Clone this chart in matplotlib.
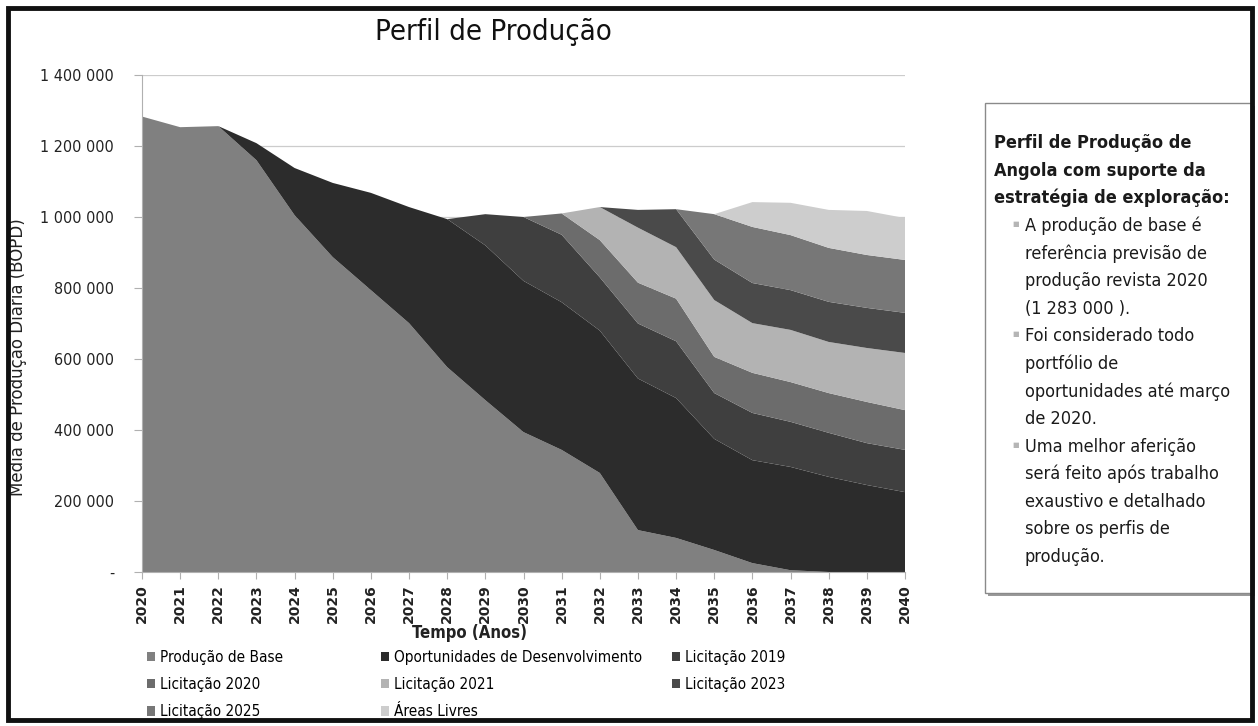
import matplotlib
matplotlib.use("Agg")
import matplotlib.pyplot as plt
from matplotlib.patches import Patch, Rectangle
from matplotlib.ticker import FuncFormatter
from matplotlib.font_manager import FontProperties

# ---------------- data ----------------
years = list(range(2020, 2041))
series_names = ["Produção de Base", "Oportunidades de Desenvolvimento", "Licitação 2019",
                "Licitação 2020", "Licitação 2021", "Licitação 2023",
                "Licitação 2025", "Áreas Livres"]

producao_base = [1283000, 1253000, 1256000, 1160000, 1005000, 887000, 794000, 701000,
                 577000, 484000, 394000, 344000, 279000, 118000, 96000, 62000, 25000,
                 5000, 0, 0, 0]
oportunidades = [0, 0, 0, 48000, 133000, 209000, 274000, 327000, 417000, 436000, 426000,
                 416000, 401000, 427000, 394000, 313000, 290000, 291000, 268000, 245000, 225000]
licitacao_2019 = [0, 0, 0, 0, 0, 0, 0, 0, 0, 88000, 180000, 190000, 150000, 155000,
                  160000, 129000, 133000, 127000, 124000, 118000, 119000]
licitacao_2020 = [0, 0, 0, 0, 0, 0, 0, 0, 0, 0, 0, 60000, 105000, 115000, 120000,
                  102000, 113000, 112000, 112000, 116000, 112000]
licitacao_2021 = [0, 0, 0, 0, 0, 0, 0, 0, 0, 0, 0, 0, 93000, 155000, 145000, 160000,
                  140000, 147000, 144000, 152000, 161000]
licitacao_2023 = [0, 0, 0, 0, 0, 0, 0, 0, 0, 0, 0, 0, 0, 50000, 107000, 114000,
                  113000, 112000, 113000, 113000, 113000]
licitacao_2025 = [0, 0, 0, 0, 0, 0, 0, 0, 0, 0, 0, 0, 0, 0, 0, 128000, 158000,
                  155000, 152000, 149000, 149000]
areas_livres = [0, 0, 0, 0, 0, 0, 0, 0, 0, 0, 0, 0, 0, 0, 0, 0, 70000, 91000,
                107000, 124000, 118000]

yticks = [0, 200000, 400000, 600000, 800000, 1000000, 1200000, 1400000]

title = "Perfil de Produção"
ylabel = "Média de Produção Diária (BOPD)"
xlabel = "Tempo (Anos)"
box_header = ["Perfil de Produção de", "Angola com suporte da", "estratégia de exploração:"]
box_bullets = [
    ["A produção de base é", "referência previsão de", "produção revista 2020", "(1 283 000 )."],
    ["Foi considerado todo", "portfólio de", "oportunidades até março", "de 2020."],
    ["Uma melhor aferição", "será feito após trabalho", "exaustivo e detalhado",
     "sobre os perfis de", "produção."],
]

colors = ["#808080", "#2c2c2c", "#3f3f3f", "#6c6c6c", "#b3b3b3", "#4a4a4a", "#777777", "#cdcdcd"]


def cond(size, weight="normal"):
    return FontProperties(family="DejaVu Sans", stretch="condensed", size=size, weight=weight)


W, H = 1258, 726
fig = plt.figure(figsize=(W / 100, H / 100), dpi=100)
fig.patch.set_facecolor("white")


def fx(px):
    return px / W


def fy(py):
    return 1 - py / H


ax = fig.add_axes([fx(142), fy(572), (905 - 142) / W, (572 - 75) / H])
layers = [producao_base, oportunidades, licitacao_2019, licitacao_2020,
          licitacao_2021, licitacao_2023, licitacao_2025, areas_livres]
polys = ax.stackplot(years, *layers, colors=colors, labels=series_names, linewidth=0, zorder=2)

ax.set_xlim(years[0], years[-1])
ax.set_ylim(0, 1400000)
ax.set_yticks(yticks)
ax.yaxis.set_major_formatter(FuncFormatter(lambda v, p: "-" if v == 0 else f"{int(v):,}".replace(",", " ")))
ax.set_xticks(years)
ax.set_xticklabels([str(y) for y in years], rotation=90, family="DejaVu Sans",
                   fontweight="bold", fontsize=10, color="#222222")
for lab in ax.get_yticklabels():
    lab.set_fontproperties(cond(11.5))
    lab.set_color("#222222")
ax.grid(axis="y", color="#cccccc", linewidth=0.9, zorder=1)
ax.set_axisbelow(True)
for s in ["top", "right"]:
    ax.spines[s].set_visible(False)
ax.spines["left"].set_color("#b0b0b0")
ax.spines["bottom"].set_color("#b0b0b0")
ax.tick_params(axis="x", length=5, color="#b0b0b0", pad=4)
ax.tick_params(axis="y", length=6, color="#b0b0b0", pad=14)

# axis labels
fig.text(fx(18), fy(357), ylabel, rotation=90, ha="center", va="center",
         family="DejaVu Sans", fontsize=12, color="#222222")
fig.text(fx(470), fy(633), xlabel, ha="center", va="center",
         fontproperties=cond(12, "bold"), color="#222222")

# title
fig.text(fx(493), fy(32), title, ha="center", va="center",
         fontproperties=cond(21), color="#111111")

# legend (three columns, placed like the reference)
handles = [Patch(facecolor=c, edgecolor="none") for c in colors]
cols = [[0, 3, 6], [1, 4, 7], [2, 5]]
col_x = [147, 381, 672]
for ci, idxs in enumerate(cols):
    fig.legend([handles[i] for i in idxs], [series_names[i] for i in idxs],
               loc="upper left", bbox_to_anchor=(fx(col_x[ci]), fy(650)),
               frameon=False, ncol=1, prop=cond(11),
               handlelength=0.55, handleheight=0.55, handletextpad=0.3,
               labelspacing=0.8, borderaxespad=0, borderpad=0)

# right text box with shadow
bx0, by0, bx1, by1 = 985, 103, 1252, 593
fig.patches.append(Rectangle((fx(bx0 + 3), fy(by1 + 3)), (bx1 - bx0) / W, (by1 - by0) / H,
                             transform=fig.transFigure, facecolor="#9a9a9a",
                             edgecolor="none", zorder=1))
fig.patches.append(Rectangle((fx(bx0), fy(by1)), (bx1 - bx0) / W, (by1 - by0) / H,
                             transform=fig.transFigure, facecolor="white",
                             edgecolor="#8a8a8a", linewidth=1, zorder=2))
line_y = 143
step = 27.6
for line in box_header:
    fig.text(fx(994), fy(line_y), line, ha="left", va="center",
             fontproperties=cond(13, "bold"), color="#1a1a1a", zorder=3)
    line_y += step
for para in box_bullets:
    for j, line in enumerate(para):
        if j == 0:
            fig.text(fx(1012), fy(line_y - 2), "■", ha="left", va="center",
                     family="DejaVu Sans", fontsize=5, color="#b5b5b5", zorder=3)
        fig.text(fx(1025), fy(line_y), line, ha="left", va="center",
                 fontproperties=cond(13), color="#1a1a1a", zorder=3)
        line_y += step

# outer slide frame
fig.patches.append(Rectangle((fx(8), fy(720)), (1252 - 8) / W, (720 - 8) / H,
                             transform=fig.transFigure, facecolor="none",
                             edgecolor="#111111", linewidth=3.5, zorder=5))

fig.savefig("out.png", dpi=100)
